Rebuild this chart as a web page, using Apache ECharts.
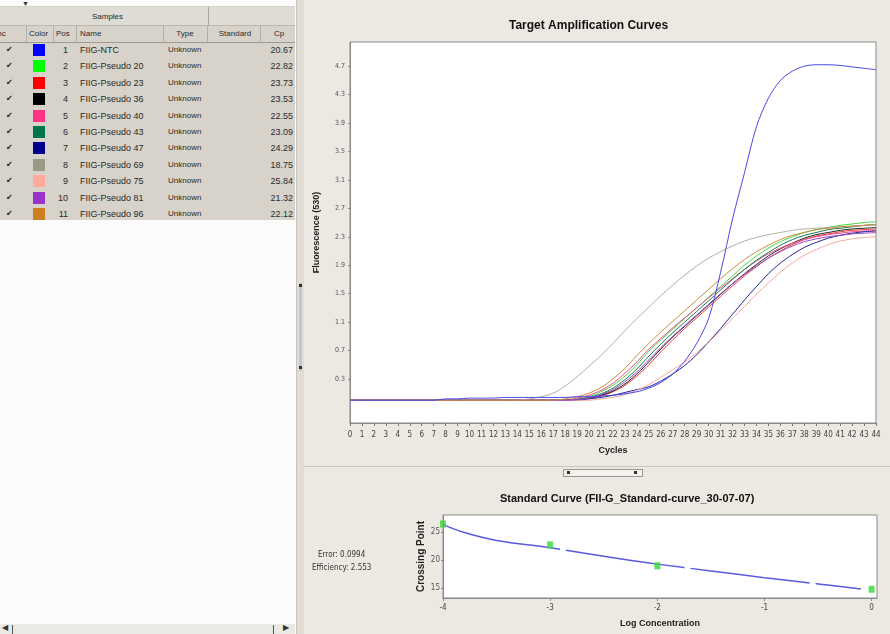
<!DOCTYPE html>
<html>
<head>
<meta charset="utf-8">
<title>Target Amplification Curves</title>
<script src="https://cdn.jsdelivr.net/npm/echarts@6/dist/echarts.min.js"></script>
<style>
body{margin:0;width:890px;height:634px;overflow:hidden;background:#ece9e2;font-family:"Liberation Sans",Arial,sans-serif;position:relative;}
.abs{position:absolute;}
#leftPanel{left:0;top:0;width:296px;height:634px;background:#fbfbfb;}
#table{left:0;top:6px;width:295px;height:214px;background:#d7d3cb;overflow:hidden;font-size:9px;color:#2a2a2a;}
.cell{position:absolute;white-space:nowrap;line-height:12px;}
#chart{left:0;top:0;width:890px;height:634px;}
</style>
</head>
<body>
<div id="leftPanel" class="abs"></div>
<div id="table" class="abs"></div>
<div class="abs" style="left:22px;top:0;font-size:7px;color:#333;">&#9660;</div>
<!-- vertical splitter -->
<div class="abs" style="left:296px;top:0;width:7px;height:634px;background:#e2ded6;border-left:1px solid #c9c5bd;"></div>
<div class="abs" style="left:299px;top:283px;width:3px;height:88px;background:#c3c5de;"></div>
<div class="abs" style="left:299px;top:284px;width:3px;height:3px;background:#333;"></div>
<div class="abs" style="left:299px;top:366px;width:3px;height:3px;background:#333;"></div>
<!-- horizontal splitter -->
<div class="abs" style="left:303px;top:466px;width:587px;height:1px;background:#cbc7bf;"></div>
<div class="abs" style="left:563px;top:469px;width:78px;height:6px;background:#f4f2ee;border:1px solid #9a978f;"></div>
<div class="abs" style="left:567px;top:471px;width:3px;height:3px;background:#333;"></div>
<div class="abs" style="left:634px;top:471px;width:3px;height:3px;background:#333;"></div>
<!-- left scrollbar -->
<div class="abs" style="left:0;top:624px;width:295px;height:10px;background:#ebe9e3;"></div>
<div class="abs" style="left:2px;top:623px;font-size:8px;color:#333;">&#9664;</div>
<div class="abs" style="left:12px;top:625px;width:1px;height:9px;background:#555;"></div>
<div class="abs" style="left:273px;top:625px;width:1px;height:9px;background:#555;"></div>
<div class="abs" style="left:283px;top:623px;font-size:8px;color:#333;">&#9654;</div>
<div id="chart" class="abs"></div>
<script>
// sample table
var positions = [1, 2, 3, 4, 5, 6, 7, 8, 9, 10, 11];
var sampleNames = ['FIIG-NTC', 'FIIG-Pseudo 20', 'FIIG-Pseudo 23', 'FIIG-Pseudo 36', 'FIIG-Pseudo 40',
    'FIIG-Pseudo 43', 'FIIG-Pseudo 47', 'FIIG-Pseudo 69', 'FIIG-Pseudo 75', 'FIIG-Pseudo 81', 'FIIG-Pseudo 96'];
var sampleTypes = ['Unknown', 'Unknown', 'Unknown', 'Unknown', 'Unknown', 'Unknown',
    'Unknown', 'Unknown', 'Unknown', 'Unknown', 'Unknown'];
var cpValues = ['20.67', '22.82', '23.73', '23.53', '22.55', '23.09', '24.29', '18.75', '25.84', '21.32', '22.12'];

// amplification curves, cycles 0..44
var cycles = [0,1,2,3,4,5,6,7,8,9,10,11,12,13,14,15,16,17,18,19,20,21,22,23,24,25,26,27,28,29,30,31,32,33,34,35,36,37,38,39,40,41,42,43,44];
var fluorTicks = [0.3, 0.7, 1.1, 1.5, 1.9, 2.3, 2.7, 3.1, 3.5, 3.9, 4.3, 4.7];
var curveNTC = [0,0,0,0,0,0,0,0,0.02,0.02,0.03,0.03,0.03,0.04,0.04,0.04,0.04,0.04,0.04,0.05,0.05,
    0.06,0.07,0.09,0.12,0.17,0.25,0.37,0.55,0.8,1.15,1.8,2.55,3.2,3.85,4.25,4.5,4.63,4.7,4.72,4.72,4.71,4.69,4.67,4.65];
var curveP20 = [0,0,0,0,0,0,0,0,0,0,0,0,0,0,0,0,0,0,0,
    0.02,0.05,0.12,0.21,0.34,0.5,0.69,0.85,1.0,1.15,1.3,1.45,1.6,1.75,1.9,2.03,2.14,2.23,2.3,2.36,2.4,2.43,2.46,2.48,2.5,2.51];
var curveP23 = [0,0,0,0,0,0,0,0,0,0,0,0,0,0,0,0,0,0,0,
    0.01,0.02,0.06,0.12,0.21,0.34,0.5,0.68,0.85,1.01,1.16,1.31,1.46,1.61,1.75,1.88,2.0,2.1,2.19,2.26,2.31,2.34,2.37,2.39,2.4,2.41];
var curveP36 = [0,0,0,0,0,0,0,0,0,0,0,0,0,0,0,0,0,0,0,
    0.01,0.03,0.07,0.13,0.23,0.37,0.54,0.72,0.89,1.04,1.19,1.34,1.49,1.64,1.78,1.91,2.03,2.13,2.21,2.28,2.33,2.36,2.39,2.41,2.42,2.43];
var curveP40 = [0,0,0,0,0,0,0,0,0,0,0,0,0,0,0,0,0,0,0,
    0.03,0.07,0.14,0.24,0.38,0.54,0.72,0.87,1.02,1.16,1.3,1.44,1.58,1.71,1.84,1.96,2.06,2.14,2.21,2.26,2.3,2.33,2.35,2.37,2.38,2.39];
var curveP43 = [0,0,0,0,0,0,0,0,0,0,0,0,0,0,0,0,0,0,0,
    0.01,0.04,0.09,0.17,0.29,0.44,0.62,0.79,0.95,1.1,1.25,1.4,1.55,1.7,1.84,1.97,2.08,2.18,2.26,2.32,2.36,2.4,2.42,2.44,2.46,2.47];
var curveP47 = [0,0,0,0,0,0,0,0,0,0,0,0,0,0,0,0,0,0,0,0,
    0.02,0.04,0.07,0.11,0.15,0.19,0.27,0.37,0.49,0.64,0.82,1.01,1.21,1.41,1.6,1.78,1.93,2.05,2.15,2.22,2.28,2.32,2.35,2.37,2.38];
var curveP69 = [0,0,0,0,0,0,0,0,0,0,0,0,0,0,0,
    0.02,0.05,0.1,0.2,0.33,0.48,0.63,0.8,0.98,1.15,1.31,1.47,1.62,1.76,1.89,2.0,2.09,2.17,2.24,2.29,2.33,2.36,2.39,2.41,2.42,2.43,2.44,2.45,2.46,2.47];
var curveP75 = [0,0,0,0,0,0,0,0,0,0,0,0,0,0,0,0,0,0,0,0,0,
    0.02,0.04,0.08,0.14,0.22,0.32,0.43,0.54,0.67,0.82,0.98,1.15,1.32,1.49,1.65,1.8,1.93,2.04,2.12,2.19,2.24,2.27,2.29,2.3];
var curveP81 = [0,0,0,0,0,0,0,0,0,0,0,0,0,0,0,0,0,0,0,
    0.01,0.03,0.08,0.15,0.26,0.4,0.57,0.74,0.9,1.05,1.2,1.35,1.5,1.64,1.77,1.89,2.0,2.09,2.17,2.23,2.27,2.3,2.32,2.34,2.35,2.36];
var curveP96 = [0,0,0,0,0,0,0,0,0,0,0,0,0,0,0,0,0,0,
    0.02,0.05,0.1,0.18,0.3,0.45,0.63,0.8,0.96,1.11,1.26,1.41,1.56,1.71,1.85,1.98,2.09,2.18,2.26,2.32,2.36,2.4,2.42,2.44,2.45,2.46,2.47];

// standard curve
var logConc = [-4, -3, -2, -1, 0];
var cpTicks = [15, 20, 25];
var stdPointX = [-4, -3, -2, 0];
var stdPointY = [26.4, 22.7, 19.0, 14.85];
var fitX = [-4, -3.8, -3.5, -3, -2.5, -2, -1.5, -1, -0.5, -0.1];
var fitY = [26.3, 24.9, 23.5, 22.2, 20.7, 19.3, 18.1, 16.9, 15.8, 14.9];

var swatchColors = ['#0000ff', '#00ff00', '#ff0000', '#000000', '#ff3385', '#00774a',
    '#00008c', '#9a9a84', '#ffaa9a', '#9933cc', '#cc8020'];
var lineColors = ['#4a4ae8', '#44d844', '#e83a3a', '#222222', '#ee4c8e', '#1a7a4e',
    '#22229a', '#b0b0a0', '#f5aa9c', '#9a48cc', '#cc8a3a'];
var curves = [curveNTC, curveP20, curveP23, curveP36, curveP40, curveP43, curveP47, curveP69, curveP75, curveP81, curveP96];

// ---- table (plain html) ----
var table = document.getElementById('table');
function cell(txt, x, y, w, align, extra) {
    var d = document.createElement('div');
    d.className = 'cell';
    d.textContent = txt;
    d.style.left = x + 'px';
    d.style.top = y + 'px';
    if (w) { d.style.width = w + 'px'; }
    if (align) { d.style.textAlign = align; }
    if (extra) { d.style.cssText += extra; }
    table.appendChild(d);
    return d;
}
function box(x, y, w, h, bg) {
    var d = document.createElement('div');
    d.className = 'cell';
    d.style.cssText += 'left:' + x + 'px;top:' + y + 'px;width:' + w + 'px;height:' + h + 'px;background:' + bg + ';';
    table.appendChild(d);
}
box(0, 1, 295, 18, '#dfdcd5');
box(0, 19, 295, 1, '#bdb9b1');
box(0, 36, 295, 1, '#9d9a93');
box(208, 1, 1, 18, '#a8a59e');
var hdrLines = [26, 53, 76, 163, 207, 260];
for (var h = 0; h < hdrLines.length; h++) {
    box(hdrLines[h], 20, 1, 16, '#b3afa7');
}
cell('Samples', 60, 5, 95, 'center', 'font-size:8px;');
cell('Inc', -5, 22, 0, null, 'font-size:8px;');
cell('Color', 29, 22, 0, null, 'font-size:8px;');
cell('Pos', 56, 22, 0, null, 'font-size:8px;');
cell('Name', 80, 22, 0, null, 'font-size:8px;');
cell('Type', 170, 22, 30, 'center', 'font-size:8px;');
cell('Standard', 213, 22, 44, 'center', 'font-size:8px;');
cell('Cp', 266, 22, 26, 'center', 'font-size:8px;');
for (var i = 0; i < positions.length; i++) {
    var y = 38 + i * 16.4;
    cell('\u2714', 6, y, 0, null, 'font-family:"DejaVu Sans";font-size:8px;color:#222;');
    box(33, y, 12, 12, swatchColors[i]);
    cell(String(positions[i]), 52, y, 16, 'right');
    cell(sampleNames[i], 80, y);
    cell(sampleTypes[i], 168, y, 0, null, 'font-size:8px;');
    cell(cpValues[i], 258, y, 35, 'right');
}

// ---- charts ----
var myChart = echarts.init(document.getElementById('chart'), null, {renderer: 'canvas'});

var seriesList = [];
for (var k = 0; k < curves.length; k++) {
    var pts = [];
    for (var c = 0; c < cycles.length; c++) {
        pts.push([cycles[c], curves[k][c]]);
    }
    seriesList.push({
        name: sampleNames[k],
        type: 'line',
        xAxisIndex: 0,
        yAxisIndex: 0,
        data: pts,
        showSymbol: false,
        smooth: 0.3,
        lineStyle: {color: lineColors[k], width: 1},
        z: k === 0 ? 5 : 3
    });
}
var fitPts = [];
for (var f = 0; f < fitX.length; f++) { fitPts.push([fitX[f], fitY[f]]); }
var stdPts = [];
for (var s = 0; s < stdPointX.length; s++) { stdPts.push([stdPointX[s], stdPointY[s]]); }
seriesList.push({
    name: 'fit',
    type: 'line',
    xAxisIndex: 1,
    yAxisIndex: 1,
    data: fitPts,
    showSymbol: false,
    smooth: 0.4,
    lineStyle: {color: '#5a5ae0', width: 1.5, type: [120, 6]}
});
seriesList.push({
    name: 'standards',
    type: 'scatter',
    xAxisIndex: 1,
    yAxisIndex: 1,
    data: stdPts,
    symbol: 'rect',
    symbolSize: [6, 7],
    itemStyle: {color: '#38d838'},
    z: 6
});

var tinyFont = '"Liberation Sans Narrow", "DejaVu Sans Condensed", "Liberation Sans", sans-serif';
var option = {
    animation: false,
    grid: [
        {left: 350, top: 42, width: 526, height: 381, show: true, backgroundColor: '#ffffff', borderColor: '#8a8a8a', borderWidth: 1},
        {left: 443, top: 515, width: 434, height: 83, show: true, backgroundColor: '#ffffff', borderColor: '#8a8a8a', borderWidth: 1}
    ],
    graphic: [
        {type: 'text', left: 509, top: 20, style: {text: 'Target Amplification Curves', font: 'bold 12px "Liberation Sans", Arial, sans-serif', fill: '#111'}},
        {type: 'text', left: 500, top: 493, style: {text: 'Standard Curve (FII-G_Standard-curve_30-07-07)', font: 'bold 11px "Liberation Sans", Arial, sans-serif', fill: '#111'}},
        {type: 'text', left: 318, top: 551, style: {text: 'Error: 0.0994', font: '8px ' + tinyFont, fill: '#333'}},
        {type: 'text', left: 312, top: 564, style: {text: 'Efficiency: 2.553', font: '8px ' + tinyFont, fill: '#333'}}
    ],
    xAxis: [
        {
            gridIndex: 0, type: 'value', min: 0, max: 44, interval: 1,
            name: 'Cycles', nameLocation: 'middle', nameGap: 23,
            nameTextStyle: {fontSize: 9, fontWeight: 'bold', color: '#222'},
            axisLine: {show: true, onZero: false, lineStyle: {color: '#8a8a8a'}},
            axisTick: {show: true, length: 3, lineStyle: {color: '#777'}},
            axisLabel: {fontSize: 8, color: '#444', margin: 8, fontFamily: tinyFont},
            splitLine: {show: false}
        },
        {
            gridIndex: 1, type: 'value', min: -4, max: 0.05, interval: 1,
            name: 'Log Concentration', nameLocation: 'middle', nameGap: 21,
            nameTextStyle: {fontSize: 9, fontWeight: 'bold', color: '#222'},
            axisLine: {show: true, onZero: false, lineStyle: {color: '#8a8a8a'}},
            axisTick: {show: true, length: 3, customValues: logConc},
            axisLabel: {fontSize: 8, color: '#444', margin: 6, fontFamily: tinyFont, customValues: logConc,
                formatter: function (v) { return String(Math.round(v)); }},
            splitLine: {show: false}
        }
    ],
    yAxis: [
        {
            gridIndex: 0, type: 'value', min: -0.32, max: 5.04,
            name: 'Fluorescence (530)', nameLocation: 'middle', nameGap: 29,
            nameTextStyle: {fontSize: 9, fontWeight: 'bold', color: '#222'},
            axisLine: {show: true, onZero: false, lineStyle: {color: '#8a8a8a'}},
            axisTick: {show: true, length: 2, customValues: fluorTicks},
            axisLabel: {fontSize: 7, color: '#555', margin: 5, fontFamily: tinyFont, customValues: fluorTicks,
                formatter: function (v) { return v.toFixed(1); }},
            splitLine: {show: false}
        },
        {
            gridIndex: 1, type: 'value', min: 13.3, max: 28,
            name: 'Crossing Point', nameLocation: 'middle', nameGap: 17,
            nameTextStyle: {fontSize: 10, fontWeight: 'bold', color: '#222'},
            axisLine: {show: true, onZero: false, lineStyle: {color: '#8a8a8a'}},
            axisTick: {show: true, length: 2, customValues: cpTicks},
            axisLabel: {fontSize: 8, color: '#555', margin: 3, fontFamily: tinyFont, customValues: cpTicks,
                formatter: function (v) { return String(Math.round(v)); }},
            splitLine: {show: false}
        }
    ],
    series: seriesList
};
myChart.setOption(option);
</script>
</body>
</html>
